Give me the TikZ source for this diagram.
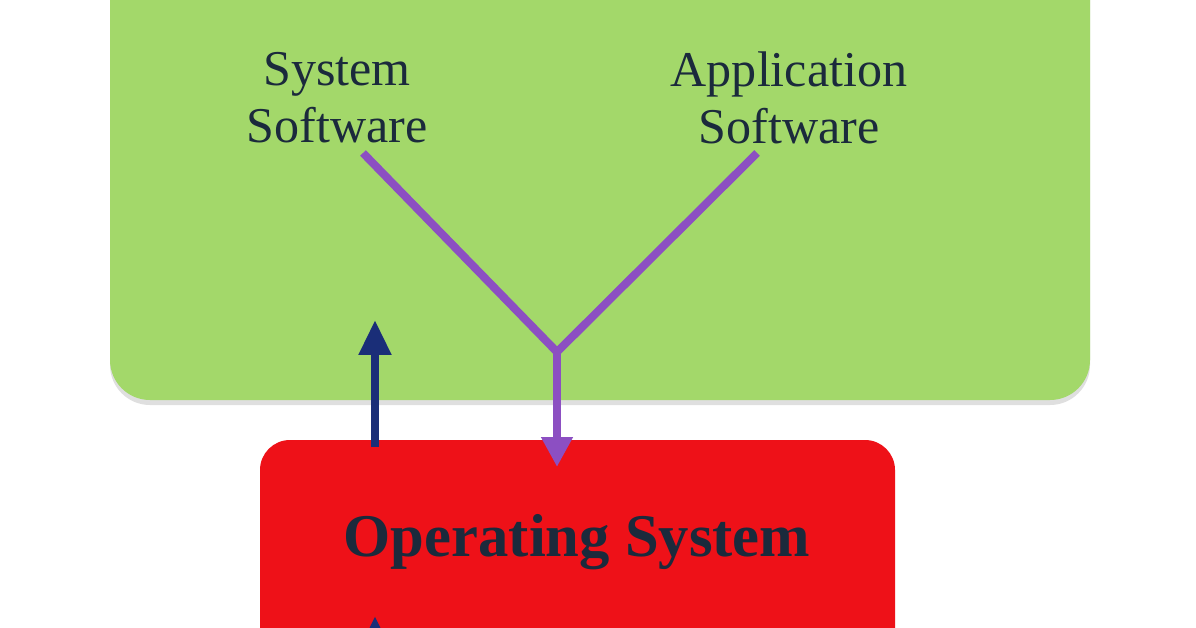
\documentclass[tikz,border=0pt]{standalone}
\usepackage{fontspec}
\setmainfont{Liberation Serif}
\usetikzlibrary{arrows.meta,shadows}
\definecolor{appgreen}{HTML}{A3D86A}
\definecolor{osred}{HTML}{EE1118}
\definecolor{linkpurple}{HTML}{8C4FC2}
\definecolor{arrownavy}{HTML}{1A2E78}
\definecolor{labelink}{HTML}{1B2A3C}
\tikzset{%
    softtext/.style={%
        text=labelink, align=center, inner sep=0pt,
        font=\fontsize{28.5}{32.5}\selectfont
    },
    ostext/.style={%
        text=labelink, inner sep=0pt,
        font=\fontsize{34.5}{40}\selectfont\bfseries
    },
    purplelink/.style={%
        draw=linkpurple, line width=0.16cm, line join=round
    },
    navylink/.style={%
        draw=arrownavy, line width=0.16cm,
        -{Triangle[length=0.7cm,width=0.62cm]}
    }
}

\begin{document}
\begin{tikzpicture}[x=0.02cm,y=-0.02cm]
    \useasboundingbox (0,0) rectangle (1196,628);
    \clip (0,0) rectangle (1196,628);
    \fill[white] (0,0) rectangle (1196,628);
    \fill[appgreen, rounded corners=0.8cm,
        drop shadow={shadow xshift=0cm, shadow yshift=-0.1cm, opacity=0.25}]
        (110,-60) rectangle (1090,400);
    \fill[osred, rounded corners=0.6cm] (260,440) rectangle (895,700);
    \node[softtext] (sys) at (337,98) {System\\Software};
    \node[softtext] (app) at (789,98) {Application\\Software};
    \node[ostext] (os) at (577,542) {Operating System};
    \coordinate (sysfoot) at (363,153);
    \coordinate (appfoot) at (757,153);
    \coordinate (fork) at (557,352);
    \coordinate (osin) at (557,467);
    \coordinate (osout) at (375,447);
    \coordinate (appin) at (375,320);
    \coordinate (lowtail) at (375,680);
    \coordinate (lowtip) at (375,616);
    \draw[purplelink] (sysfoot) -- (fork) -- (appfoot);
    \draw[purplelink, -{Triangle[length=0.6cm,width=0.6cm]}] (fork) -- (osin);
    \draw[navylink] (osout) -- (appin);
    \draw[navylink] (lowtail) -- (lowtip);
\end{tikzpicture}
\end{document}
